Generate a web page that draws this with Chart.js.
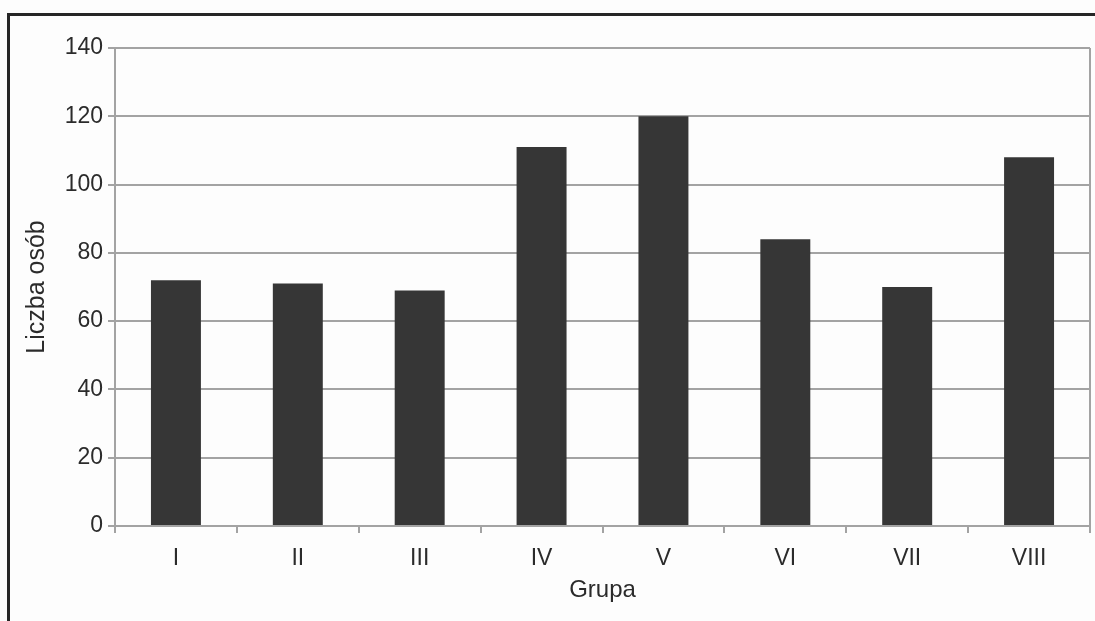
<!DOCTYPE html>
<html>
<head>
<meta charset="utf-8">
<script src="https://cdn.jsdelivr.net/npm/chart.js@4.4.1/dist/chart.umd.min.js"></script>
<style>
    html, body {
        margin: 0;
        padding: 0;
        background: #fdfdfd;
    }
    #frame {
        position: absolute;
        left: 7px;
        top: 13px;
        width: 1088px;
        height: 608px;
        border-top: 3px solid #262626;
        border-left: 3px solid #262626;
        box-sizing: border-box;
    }
    #wrap {
        position: absolute;
        left: 0;
        top: 0;
        width: 1095px;
        height: 621px;
    }
</style>
</head>
<body>
<div id="frame"></div>
<div id="wrap"><canvas id="chart"></canvas></div>
<script>
    const categories = ["I", "II", "III", "IV", "V", "VI", "VII", "VIII"];
    const counts = [72, 71, 69, 111, 120, 84, 70, 108];
    const yTicks = [0, 20, 40, 60, 80, 100, 120, 140];

    const textColor = "#2b2b2b";
    const gridColor = "#a3a3a3";
    const fontFamily = "'Liberation Sans', Arial, sans-serif";

    // thin border on the right side of the plot area
    const rightBorder = {
        id: "rightBorder",
        afterDraw: function (chart) {
            const area = chart.chartArea;
            const ctx = chart.ctx;
            ctx.save();
            ctx.strokeStyle = gridColor;
            ctx.lineWidth = 2;
            ctx.beginPath();
            ctx.moveTo(area.right, area.top);
            ctx.lineTo(area.right, area.bottom);
            ctx.stroke();
            ctx.restore();
        }
    };

    const ctx = document.getElementById("chart").getContext("2d");
    new Chart(ctx, {
        type: "bar",
        data: {
            labels: categories,
            datasets: [{
                label: "Liczba osób",
                data: counts,
                backgroundColor: "#363636",
                borderWidth: 0,
                barPercentage: 0.41,
                categoryPercentage: 1.0
            }]
        },
        options: {
            responsive: true,
            maintainAspectRatio: false,
            animation: false,
            layout: {
                padding: { top: 48, right: 5, left: 0, bottom: 0 }
            },
            plugins: {
                legend: { display: false },
                tooltip: { enabled: false }
            },
            scales: {
                x: {
                    afterFit: function (scale) { scale.height = 95; },
                    grid: {
                        drawOnChartArea: false,
                        drawTicks: true,
                        tickLength: 7,
                        color: gridColor,
                        lineWidth: 2
                    },
                    border: { color: gridColor, width: 2 },
                    ticks: {
                        color: textColor,
                        padding: 12,
                        font: { family: fontFamily, size: 23 }
                    },
                    title: {
                        display: true,
                        text: "Grupa",
                        color: textColor,
                        padding: { top: 0, bottom: 16 },
                        font: { family: fontFamily, size: 24 }
                    }
                },
                y: {
                    min: 0,
                    max: 140,
                    afterFit: function (scale) { scale.width = 115; },
                    afterBuildTicks: function (scale) {
                        scale.ticks = yTicks.map(function (v) { return { value: v }; });
                    },
                    grid: {
                        color: gridColor,
                        lineWidth: 2,
                        tickLength: 7
                    },
                    border: { color: gridColor, width: 2 },
                    ticks: {
                        color: textColor,
                        padding: 5,
                        font: { family: fontFamily, size: 23 }
                    },
                    title: {
                        display: true,
                        text: "Liczba osób",
                        color: textColor,
                        padding: { top: 22, bottom: 0 },
                        font: { family: fontFamily, size: 25 }
                    }
                }
            }
        },
        plugins: [rightBorder]
    });
</script>
</body>
</html>
